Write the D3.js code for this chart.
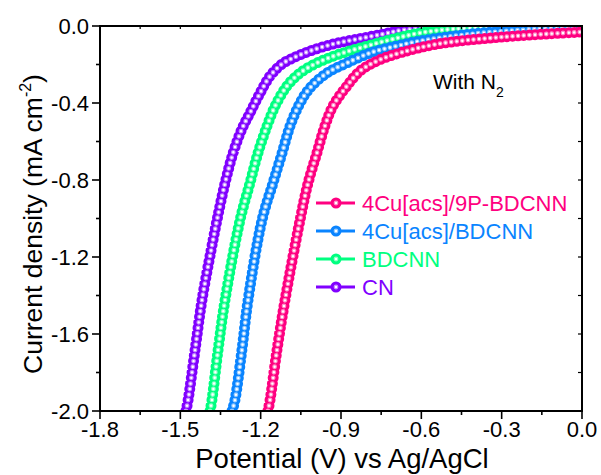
<!DOCTYPE html>
<html><head><meta charset="utf-8">
<script src="https://cdn.jsdelivr.net/npm/d3@7"></script>
<style>body{margin:0;background:#fff}svg{display:block;font-family:"Liberation Sans",Arial,sans-serif}</style>
</head><body><svg id="c" width="601" height="475"></svg>
<script>
const seriesNames = ["4Cu[acs]/9P-BDCNN", "4Cu[acs]/BDCNN", "BDCNN", "CN"];
const seriesColors = ["#ff0080", "#0a84ff", "#00ff80", "#8000ff"];
const xTicks = [-1.8, -1.5, -1.2, -0.9, -0.6, -0.3, 0.0];
const yTicks = [0.0, -0.4, -0.8, -1.2, -1.6, -2.0];

// potential (V vs Ag/AgCl) and current density (mA cm-2)
const pinkV = [-1.173, -1.165, -1.139, -1.109, -1.053, -1.023, -0.990, -0.960, -0.930, -0.878, -0.829, -0.766, -0.680, -0.541, -0.295, 0.000];
const pinkJ = [-2.000, -1.943, -1.683, -1.423, -1.008, -0.816, -0.660, -0.519, -0.416, -0.312, -0.234, -0.182, -0.140, -0.094, -0.057, -0.031];
const blueV = [-1.307, -1.296, -1.270, -1.247, -1.195, -1.154, -1.120, -1.090, -1.053, -1.016, -0.952, -0.878, -0.781, -0.691, -0.605, -0.418, -0.168, 0.000];
const blueJ = [-2.000, -1.943, -1.683, -1.423, -1.008, -0.816, -0.660, -0.519, -0.400, -0.322, -0.244, -0.192, -0.135, -0.104, -0.078, -0.042, -0.016, -0.010];
const greenV = [-1.389, -1.382, -1.359, -1.333, -1.277, -1.240, -1.210, -1.176, -1.146, -1.102, -1.053, -0.990, -0.904, -0.803, -0.706, -0.605, -0.482, -0.232, 0.000];
const greenJ = [-2.000, -1.943, -1.683, -1.423, -1.008, -0.816, -0.660, -0.519, -0.416, -0.312, -0.244, -0.192, -0.145, -0.104, -0.068, -0.036, -0.016, -0.005, -0.003];
const cnV = [-1.479, -1.471, -1.445, -1.419, -1.385, -1.363, -1.333, -1.303, -1.270, -1.240, -1.202, -1.165, -1.120, -1.079, -1.016, -0.930, -0.840, -0.743, -0.669, -0.530, -0.232, 0.000];
const cnJ = [-2.000, -1.943, -1.683, -1.423, -1.164, -1.008, -0.816, -0.660, -0.535, -0.452, -0.348, -0.260, -0.197, -0.166, -0.130, -0.094, -0.068, -0.042, -0.021, -0.010, -0.005, -0.003];

const seriesV = [pinkV, blueV, greenV, cnV];
const seriesJ = [pinkJ, blueJ, greenJ, cnJ];

const svg = d3.select("#c");
const L = 100, R = 582, T = 26, B = 411;
const x = d3.scaleLinear().domain([-1.8, 0]).range([L, R]);
const y = d3.scaleLinear().domain([0, -2]).range([T, B]);

svg.append("defs").append("clipPath").attr("id", "clip")
  .append("rect").attr("x", L).attr("y", T).attr("width", R - L).attr("height", B - T);

const line = d3.line().x(d => x(d[0])).y(d => y(d[1])).curve(d3.curveCatmullRom.alpha(0.5));
const plot = svg.append("g").attr("clip-path", "url(#clip)");

function mix(c, t) { return d3.interpolateRgb(c, "#ffffff")(t); }

// draw order: CN, BDCNN, blue, pink (pink on top)
[3, 2, 1, 0].forEach(i => {
  const pts = seriesV[i].map((v, k) => [v, seriesJ[i][k]]);
  const d = line(pts);
  const g = plot.append("g");
  g.append("path").attr("d", d).attr("fill", "none").attr("stroke", seriesColors[i])
    .attr("stroke-width", 11).attr("stroke-linecap", "round").attr("stroke-dasharray", "0 5.6");
  g.append("path").attr("d", d).attr("fill", "none").attr("stroke", mix(seriesColors[i], 0.55))
    .attr("stroke-width", 4.8).attr("stroke-linecap", "round").attr("stroke-dasharray", "0 5.6");
  g.append("path").attr("d", d).attr("fill", "none").attr("stroke", "#ffffff")
    .attr("stroke-width", 2.4).attr("stroke-linecap", "round").attr("stroke-dasharray", "0 5.6");
});

// axes
const ax = svg.append("g").attr("stroke", "#000").attr("fill", "none");
ax.append("rect").attr("x", L).attr("y", T).attr("width", R - L).attr("height", B - T).attr("stroke-width", 2);

const fontTick = 22;
d3.range(0, 13).forEach(k => {
  const v = -1.8 + k * 0.15;
  const major = k % 2 === 0;
  ax.append("line").attr("x1", x(v)).attr("x2", x(v)).attr("y1", B).attr("y2", B + (major ? 8 : 4)).attr("stroke-width", 1.6);
  ax.append("line").attr("x1", x(v)).attr("x2", x(v)).attr("y1", T).attr("y2", T + 3).attr("stroke-width", 1.2);
});
d3.range(0, 11).forEach(k => {
  const v = -k * 0.2;
  const major = k % 2 === 0;
  ax.append("line").attr("x1", L).attr("x2", L - (major ? 8 : 4)).attr("y1", y(v)).attr("y2", y(v)).attr("stroke-width", 1.6);
  ax.append("line").attr("x1", R).attr("x2", R - 4).attr("y1", y(v)).attr("y2", y(v)).attr("stroke-width", 1.2);
});

svg.append("g").selectAll("text").data(xTicks).join("text")
  .attr("x", d => x(d)).attr("y", 437).attr("text-anchor", "middle")
  .attr("font-size", fontTick).attr("fill", "#000").text(d => d.toFixed(1));
svg.append("g").selectAll("text").data(yTicks).join("text")
  .attr("x", 89).attr("y", d => y(d) + 8).attr("text-anchor", "end")
  .attr("font-size", fontTick).attr("fill", "#000").text(d => d.toFixed(1));

// axis titles
svg.append("text").attr("x", 342).attr("y", 468).attr("text-anchor", "middle")
  .attr("font-size", 27.5).attr("fill", "#000").text("Potential (V) vs Ag/AgCl");
const yt = svg.append("text").attr("transform", "translate(42,224) rotate(-90)")
  .attr("text-anchor", "middle").attr("font-size", 26.5).attr("fill", "#000");
yt.append("tspan").text("Current density (mA cm");
yt.append("tspan").attr("font-size", 16).attr("dy", -11).text("-2");
yt.append("tspan").attr("dy", 11).text(")");

// annotation
const an = svg.append("text").attr("x", 433).attr("y", 89).attr("font-size", 21).attr("fill", "#000");
an.append("tspan").text("With N");
an.append("tspan").attr("font-size", 14).attr("dy", 8).text("2");

// legend
const legY = [203, 231, 259, 287];
seriesNames.forEach((n, i) => {
  const g = svg.append("g");
  g.append("line").attr("x1", 316).attr("x2", 355).attr("y1", legY[i]).attr("y2", legY[i])
    .attr("stroke", seriesColors[i]).attr("stroke-width", 3);
  g.append("circle").attr("cx", 336).attr("cy", legY[i]).attr("r", 5.5).attr("fill", seriesColors[i]);
  g.append("circle").attr("cx", 336).attr("cy", legY[i]).attr("r", 2.4).attr("fill", mix(seriesColors[i], 0.55));
  g.append("circle").attr("cx", 336).attr("cy", legY[i]).attr("r", 1.2).attr("fill", "#fff");
  g.append("text").attr("x", 362).attr("y", legY[i] + 7.5).attr("font-size", 22)
    .attr("fill", seriesColors[i]).text(n);
});
</script></body></html>
